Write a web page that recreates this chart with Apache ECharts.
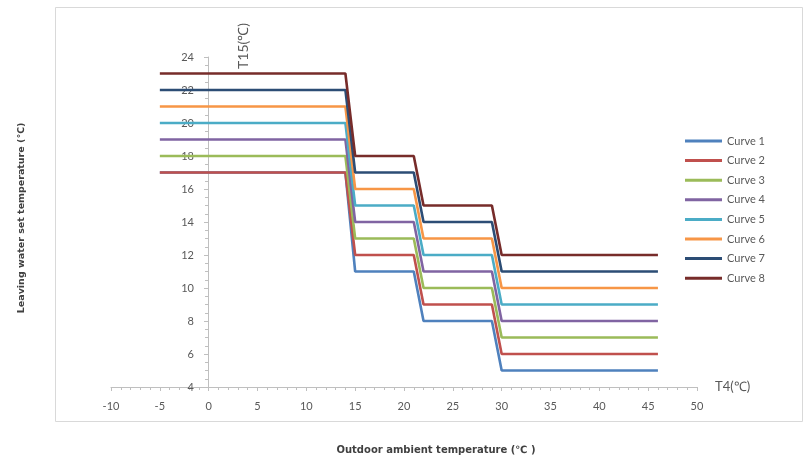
<!DOCTYPE html>
<html>
<head>
<meta charset="utf-8">
<script src="https://cdn.jsdelivr.net/npm/echarts@6/dist/echarts.min.js"></script>
<style>
  html, body { margin: 0; padding: 0; background: #ffffff; }
  #chart { width: 808px; height: 459px; }
</style>
</head>
<body>
<div id="chart"></div>
<script>
// Outdoor ambient temperature breakpoints (°C)
const t4Points = [-5, 14, 15, 21, 22, 29, 30, 46];

// Leaving water set temperature for each curve (°C)
const curve1 = [17, 17, 11, 11, 8, 8, 5, 5];
const curve2 = [17, 17, 12, 12, 9, 9, 6, 6];
const curve3 = [18, 18, 13, 13, 10, 10, 7, 7];
const curve4 = [19, 19, 14, 14, 11, 11, 8, 8];
const curve5 = [20, 20, 15, 15, 12, 12, 9, 9];
const curve6 = [21, 21, 16, 16, 13, 13, 10, 10];
const curve7 = [22, 22, 17, 17, 14, 14, 11, 11];
const curve8 = [23, 23, 18, 18, 15, 15, 12, 12];

const curveNames = ['Curve 1', 'Curve 2', 'Curve 3', 'Curve 4', 'Curve 5', 'Curve 6', 'Curve 7', 'Curve 8'];
const curveValues = [curve1, curve2, curve3, curve4, curve5, curve6, curve7, curve8];
const curveColors = ['#4F81BD', '#C0504D', '#9BBB59', '#8064A2', '#4BACC6', '#F79646', '#2C4D75', '#772C2A'];

const FONT = 'Lato, "Open Sans", sans-serif';
const TITLE_FONT = '"DejaVu Sans", sans-serif';
const TEXT = '#595959';

const chart = echarts.init(document.getElementById('chart'), null, { renderer: 'canvas' });

const series = curveNames.map((name, i) => ({
  name: name,
  type: 'line',
  symbol: 'none',
  data: t4Points.map((x, k) => [x, curveValues[i][k]]),
  lineStyle: { width: 2.6, color: curveColors[i] },
  itemStyle: { color: curveColors[i] },
  z: 2 + i
}));

chart.setOption({
  animation: false,
  backgroundColor: '#ffffff',
  textStyle: { fontFamily: FONT },
  grid: { left: 111, top: 57, width: 586, height: 330, containLabel: false },
  legend: {
    orient: 'vertical',
    left: 680,
    top: 129,
    icon: 'rect',
    itemWidth: 37,
    itemHeight: 3,
    itemGap: 5.6,
    textStyle: { color: TEXT, fontSize: 11, lineHeight: 14, fontFamily: FONT },
    data: curveNames
  },
  xAxis: {
    type: 'value',
    min: -10,
    max: 50,
    interval: 5,
    name: 'T4(℃)',
    nameLocation: 'end',
    nameGap: 18,
    nameTextStyle: { color: TEXT, fontSize: 13, fontFamily: FONT },
    axisLine: { onZero: false, lineStyle: { color: '#bfbfbf', width: 1 } },
    axisTick: { show: true, length: 4, lineStyle: { color: '#bfbfbf' } },
    minorTick: { show: true, splitNumber: 5, length: 3, lineStyle: { color: '#bfbfbf' } },
    axisLabel: { color: TEXT, fontSize: 11, margin: 14, fontFamily: FONT },
    splitLine: { show: false }
  },
  yAxis: {
    type: 'value',
    min: 4,
    max: 24,
    interval: 2,
    // the vertical axis sits at T4 = 0, which is 97px inside the grid's left edge
    offset: -97,
    axisLine: { onZero: false, lineStyle: { color: '#bfbfbf', width: 1 } },
    axisTick: { show: true, length: 4, lineStyle: { color: '#bfbfbf' } },
    minorTick: { show: true, splitNumber: 4, length: 3, lineStyle: { color: '#bfbfbf' } },
    axisLabel: { color: TEXT, fontSize: 11, margin: 14, fontFamily: FONT },
    splitLine: { show: false }
  },
  graphic: [
    {
      type: 'rect',
      silent: true,
      z: -1,
      shape: { x: 55.5, y: 7.5, width: 747, height: 414 },
      style: { fill: 'none', stroke: '#d9d9d9', lineWidth: 1 }
    },
    {
      type: 'text',
      silent: true,
      x: 243,
      y: 46,
      rotation: Math.PI / 2,
      style: {
        text: 'T15(℃)',
        fill: TEXT,
        font: '14px ' + FONT,
        align: 'center',
        verticalAlign: 'middle'
      }
    },
    {
      type: 'text',
      silent: true,
      x: 22,
      y: 218,
      rotation: Math.PI / 2,
      style: {
        text: 'Leaving water set temperature (℃)',
        fill: '#404040',
        font: 'bold 9.5px ' + TITLE_FONT,
        align: 'center',
        verticalAlign: 'middle'
      }
    },
    {
      type: 'text',
      silent: true,
      x: 436,
      y: 450,
      style: {
        text: 'Outdoor ambient temperature (℃ )',
        fill: '#404040',
        font: 'bold 10px ' + TITLE_FONT,
        align: 'center',
        verticalAlign: 'middle'
      }
    }
  ],
  series: series
});
</script>
</body>
</html>
